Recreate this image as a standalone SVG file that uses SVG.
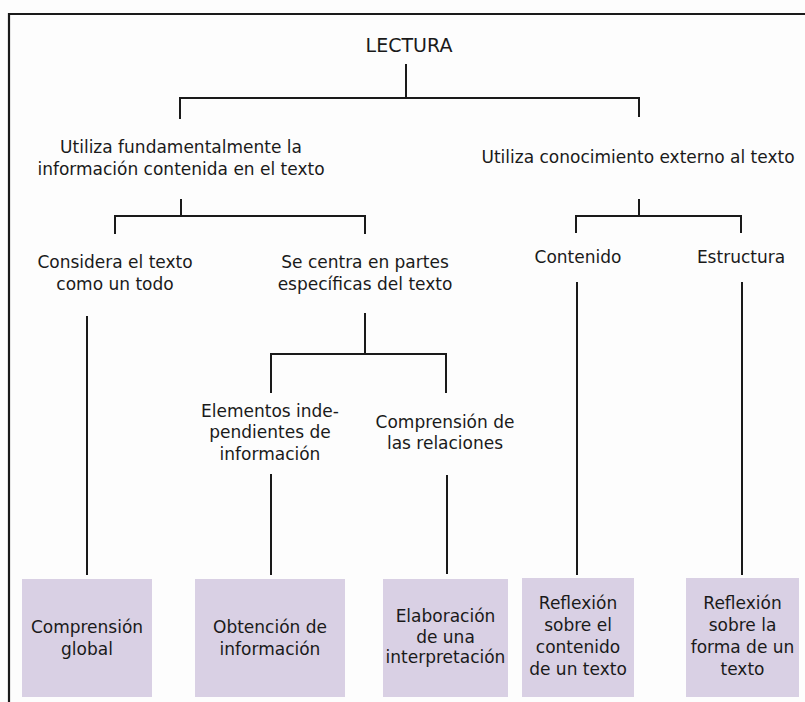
<svg xmlns="http://www.w3.org/2000/svg" width="805" height="702" viewBox="0 0 805 702">
<style>
text{font-family:"DejaVu Sans","Liberation Sans",sans-serif;font-size:17px;fill:#1a1a1a;text-anchor:middle}
.title{font-size:19px}
.frame{stroke:#1a1a1a;stroke-width:2.2;fill:none}
#connectors line{stroke:#1a1a1a;stroke-width:2}
.box{fill:#d9d0e4}
</style>
<rect x="0" y="0" width="805" height="702" fill="#fdfdfd"/>
<path class="frame" d="M9 702 V14 H805"/>
<g id="connectors">
<line x1="406" y1="64" x2="406" y2="98"/>
<line x1="179" y1="98" x2="640" y2="98"/>
<line x1="180" y1="98" x2="180" y2="119"/>
<line x1="639" y1="98" x2="639" y2="117"/>
<line x1="181" y1="199" x2="181" y2="216"/>
<line x1="114" y1="216" x2="366" y2="216"/>
<line x1="115" y1="216" x2="115" y2="234"/>
<line x1="365" y1="216" x2="365" y2="234"/>
<line x1="639" y1="199" x2="639" y2="216"/>
<line x1="575" y1="216" x2="742" y2="216"/>
<line x1="576" y1="216" x2="576" y2="233"/>
<line x1="741" y1="216" x2="741" y2="233"/>
<line x1="87" y1="316" x2="87" y2="575"/>
<line x1="365" y1="313" x2="365" y2="354"/>
<line x1="270" y1="354" x2="447" y2="354"/>
<line x1="271" y1="354" x2="271" y2="393"/>
<line x1="446" y1="354" x2="446" y2="393"/>
<line x1="271" y1="474" x2="271" y2="575"/>
<line x1="447" y1="475" x2="447" y2="574"/>
<line x1="577" y1="282" x2="577" y2="575"/>
<line x1="742" y1="282" x2="742" y2="575"/>
</g>
<g id="lectura"><text class="title" x="409" y="52">LECTURA</text></g>
<g id="info-texto"><text x="181" y="153">Utiliza fundamentalmente la</text><text x="181" y="175">información contenida en el texto</text></g>
<g id="conoc-externo"><text x="638" y="163">Utiliza conocimiento externo al texto</text></g>
<g id="todo"><text x="115" y="268">Considera el texto</text><text x="115" y="290">como un todo</text></g>
<g id="partes"><text x="365" y="268">Se centra en partes</text><text x="365" y="290">específicas del texto</text></g>
<g id="contenido"><text x="578" y="263">Contenido</text></g>
<g id="estructura"><text x="741" y="263">Estructura</text></g>
<g id="elementos"><text x="270" y="417">Elementos inde-</text><text x="270" y="438">pendientes de</text><text x="270" y="460">información</text></g>
<g id="relaciones"><text x="445" y="428">Comprensión de</text><text x="445" y="449">las relaciones</text></g>
<g id="comp-global"><rect class="box" x="22" y="579" width="130" height="118"/><text x="87" y="633">Comprensión</text><text x="87" y="655">global</text></g>
<g id="obtencion"><rect class="box" x="195" y="579" width="150" height="118"/><text x="270" y="633">Obtención de</text><text x="270" y="655">información</text></g>
<g id="elaboracion"><rect class="box" x="383" y="579" width="125" height="118"/><text x="445.5" y="622">Elaboración</text><text x="445.5" y="643">de una</text><text x="445.5" y="663">interpretación</text></g>
<g id="reflex-contenido"><rect class="box" x="522" y="578" width="112" height="119"/><text x="578" y="609">Reflexión</text><text x="578" y="631">sobre el</text><text x="578" y="653">contenido</text><text x="578" y="675">de un texto</text></g>
<g id="reflex-forma"><rect class="box" x="686" y="578" width="113" height="119"/><text x="742.5" y="609">Reflexión</text><text x="742.5" y="631">sobre la</text><text x="742.5" y="653">forma de un</text><text x="742.5" y="675">texto</text></g>
</svg>
